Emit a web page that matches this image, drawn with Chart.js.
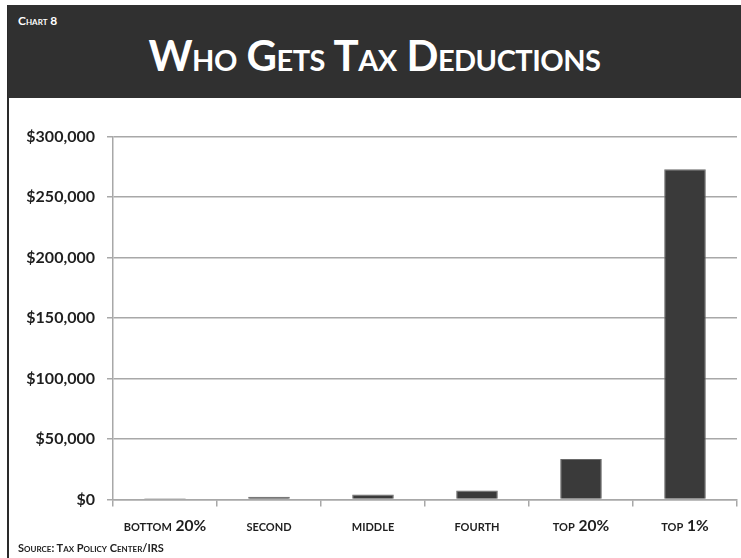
<!DOCTYPE html>
<html>
<head>
<meta charset="utf-8">
<script src="https://cdn.jsdelivr.net/npm/chart.js@4"></script>
<style>
  html, body { margin: 0; padding: 0; background: #fff; }
  body { width: 741px; height: 558px; position: relative; overflow: hidden; font-family: Lato, "Open Sans", sans-serif; }
  #leftline { position: absolute; left: 7px; top: 5px; width: 2px; height: 553px; background: #2a2a2a; }
  #header { position: absolute; left: 8px; top: 5px; width: 733px; height: 93px; background: #303030; color: #fff; }
  #chartno { position: absolute; left: 10px; top: 8px; font-size: 12px; font-weight: bold; font-variant: small-caps; }
  #title { position: absolute; left: 0; width: 100%; top: 25px; text-align: center; font-size: 42px; font-weight: bold; font-variant: small-caps; letter-spacing: -0.5px; }
  #source { position: absolute; left: 18px; top: 541px; font-size: 11px; font-weight: bold; font-variant: small-caps; color: #222; }
  #wrap { position: absolute; left: 10px; top: 115px; width: 731px; height: 430px; }
</style>
</head>
<body>
<div id="leftline"></div>
<div id="header">
  <div id="chartno">Chart 8</div>
  <div id="title">Who Gets Tax Deductions</div>
</div>
<div id="wrap"><canvas id="chart"></canvas></div>
<div id="source">Source: Tax Policy Center/IRS</div>
<script>
// categories and values
const groups = ['bottom 20%', 'second', 'middle', 'fourth', 'top 20%', 'top 1%'];
const deductions = [1000, 2100, 4100, 7400, 33500, 273000];
const yTicks = [0, 50000, 100000, 150000, 200000, 250000, 300000];

const ctx = document.getElementById('chart');
new Chart(ctx, {
  type: 'bar',
  data: {
    labels: groups,
    datasets: [{
      data: deductions,
      backgroundColor: '#3a3a3a',
      borderColor: '#6a6a6a',
      borderWidth: 1,
      categoryPercentage: 1,
      barPercentage: 0.4
    }]
  },
  options: {
    responsive: true,
    maintainAspectRatio: false,
    animation: false,
    layout: {padding: {top: 20, right: 4}},
    plugins: {legend: {display: false}, tooltip: {enabled: false}},
    scales: {
      x: {
        grid: {drawOnChartArea: false, drawTicks: true, tickLength: 7, color: '#a8a8a8', lineWidth: 1.5, offset: true},
        border: {color: '#a8a8a8', width: 1.5},
        // small caps go in through the weight part of the font string
        ticks: {color: '#1e1e1e', padding: 10, font: {family: 'Lato', size: 15.5, weight: 'small-caps bold'}, maxRotation: 0}
      },
      y: {
        min: 0,
        max: 300000,
        afterFit(scale) { scale.width = 103; },
        afterBuildTicks(scale) { scale.ticks = yTicks.map(v => ({value: v})); },
        grid: {color: '#a8a8a8', lineWidth: 1.5, tickLength: 6},
        border: {color: '#a8a8a8', width: 1.5},
        ticks: {
          color: '#1e1e1e',
          padding: 12,
          font: {family: 'Lato', size: 16, weight: 'bold'},
          callback: v => '$' + v.toLocaleString('en-US')
        }
      }
    }
  }
});
</script>
</body>
</html>
